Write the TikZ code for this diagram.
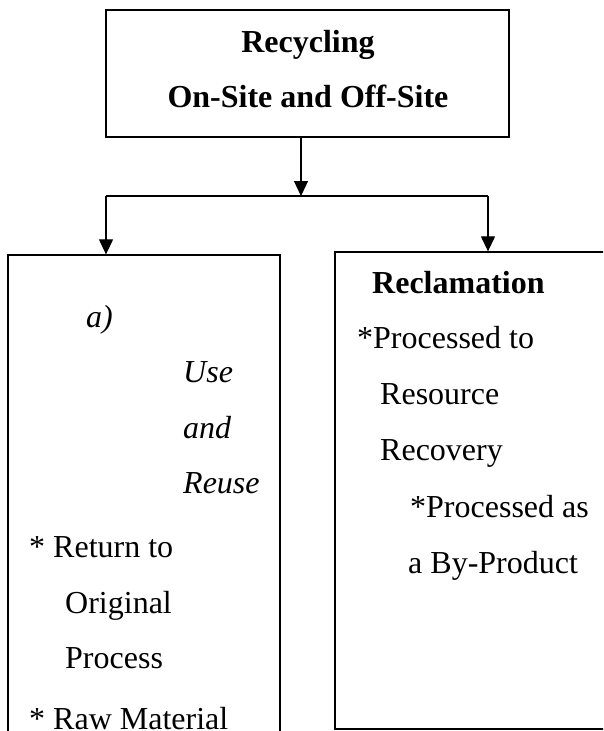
\documentclass[tikz,border=0pt]{standalone}
\usepackage{fontspec}
\setmainfont{Liberation Serif}
\usetikzlibrary{arrows.meta}
\begin{document}
\begin{tikzpicture}[x=1pt,y=-1pt,
  box/.style={draw=black,line width=1.3pt,rectangle,inner sep=0pt},
  link/.style={draw=black,line width=1.2pt},
  arr/.style={link,-{Triangle[width=14pt,length=15pt]}},
  txt/.style={inner sep=0pt,font=\fontsize{32}{32}\selectfont},
  head/.style={txt,font=\fontsize{32}{32}\selectfont\bfseries},
  em/.style={txt,font=\fontsize{32}{32}\selectfont\itshape}]
  % page frame and clipping
  \useasboundingbox (0,0) rectangle (603,731);
  \clip (0,0) rectangle (603,731);
  \fill[white] (0,0) rectangle (603,731);

  % boxes
  \node[box,minimum width=403pt,minimum height=127pt] (top) at (307.5,73.5) {};
  \node[box,minimum width=272pt,minimum height=560pt] (lbox) at (144,535) {};
  \node[box,minimum width=330pt,minimum height=477pt] (rbox) at (500,490.5) {};

  % connectors
  \coordinate (split) at (301,196);
  \coordinate (bl) at (106,196);
  \coordinate (br) at (488,196);
  \draw[arr] (top.south -| split) -- (split);
  \draw[link] (bl) -- (br);
  \draw[arr] (bl) -- (bl |- lbox.north);
  \draw[arr] (br) -- (br |- rbox.north);

  % title
  \node[head,anchor=base] (t1) at (308,52) {Recycling};
  \node[head,anchor=base] (t2) at (308,107) {On-Site and Off-Site};

  % left column
  \node[em,anchor=base west] (l1) at (86,327) {a)};
  \node[em,anchor=base west] (l2) at (183,382) {Use};
  \node[em,anchor=base west] (l3) at (183,438) {and};
  \node[em,anchor=base west] (l4) at (183,493) {Reuse};
  \node[txt,anchor=base west] (l5) at (29,557) {* Return to};
  \node[txt,anchor=base west] (l6) at (65,613) {Original};
  \node[txt,anchor=base west] (l7) at (65,668) {Process};
  \node[txt,anchor=base west] (l8) at (29,729) {* Raw Material};

  % right column
  \node[head,anchor=base west] (r1) at (372,293) {Reclamation};
  \node[txt,anchor=base west] (r2) at (357,348) {*Processed to};
  \node[txt,anchor=base west] (r3) at (380,404) {Resource};
  \node[txt,anchor=base west] (r4) at (380,460) {Recovery};
  \node[txt,anchor=base west] (r5) at (410,517) {*Processed as};
  \node[txt,anchor=base west] (r6) at (408,573) {a By-Product};
\end{tikzpicture}
\end{document}
